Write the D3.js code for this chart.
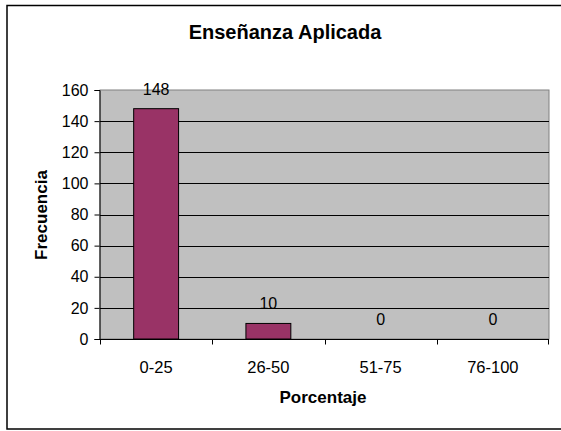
<!DOCTYPE html>
<html><head><meta charset="utf-8">
<script src="https://cdn.jsdelivr.net/npm/d3@7"></script>
<style>body{margin:0;background:#fff}svg{display:block;font-family:Arial,"Liberation Sans",sans-serif}</style>
</head><body>
<script>
const title = "Enseñanza Aplicada";
const categories = ["0-25", "26-50", "51-75", "76-100"];
const values = [148, 10, 0, 0];
const yTicks = [0, 20, 40, 60, 80, 100, 120, 140, 160];
const xTitle = "Porcentaje";
const yTitle = "Frecuencia";

const W = 561, H = 431;
const svg = d3.select("body").append("svg").attr("width", W).attr("height", H);

// outer chart border
svg.append("rect").attr("x", 7).attr("y", 5.5).attr("width", 620).attr("height", 423.5)
  .attr("fill", "#fff").attr("stroke", "#000").attr("stroke-width", 1.5);

const plot = {left: 100, right: 549, top: 90, bottom: 339};
const x = d3.scaleBand().domain(categories).range([plot.left, plot.right]).paddingInner(0.6).paddingOuter(0.3);
const xb = d3.scaleBand().domain(categories).range([plot.left, plot.right]);
const y = d3.scaleLinear().domain([0, 160]).range([plot.bottom, plot.top]);

svg.append("rect").attr("x", plot.left).attr("y", plot.top)
  .attr("width", plot.right - plot.left).attr("height", plot.bottom - plot.top)
  .attr("fill", "#c0c0c0").attr("stroke", "#808080").attr("stroke-width", 1);

// gridlines
svg.append("g").selectAll("line").data(yTicks.filter(d => d > 0 && d < 160)).join("line")
  .attr("x1", plot.left).attr("x2", plot.right)
  .attr("y1", d => Math.round(y(d)) + 0.5).attr("y2", d => Math.round(y(d)) + 0.5)
  .attr("stroke", "#000").attr("stroke-width", 1);

// bars
svg.append("g").selectAll("rect").data(values).join("rect")
  .attr("x", (d, i) => x(categories[i]))
  .attr("y", d => y(d))
  .attr("width", x.bandwidth())
  .attr("height", d => y(0) - y(d))
  .attr("fill", "#993366").attr("stroke", "#000").attr("stroke-width", 1);

// data labels
svg.append("g").selectAll("text").data(values).join("text")
  .attr("x", (d, i) => x(categories[i]) + x.bandwidth() / 2)
  .attr("y", d => y(d) - 14)
  .attr("text-anchor", "middle").attr("font-size", 16).attr("fill", "#000")
  .text(d => d);

// y axis
const yAxis = d3.axisLeft(y).tickValues(yTicks).tickSize(5).tickPadding(6);
const gy = svg.append("g").attr("transform", `translate(${plot.left - 0.5},0)`).call(yAxis);
gy.select(".domain").attr("stroke", "#000");
gy.selectAll(".tick line").attr("stroke", "#000");
gy.selectAll(".tick text").attr("font-size", 16).attr("font-family", "Arial, 'Liberation Sans', sans-serif").attr("fill", "#000");

// x axis
const gx = svg.append("g").attr("transform", `translate(0,${plot.bottom + 0.5})`);
gx.append("line").attr("x1", plot.left).attr("x2", plot.right).attr("stroke", "#000");
gx.selectAll(".tk").data(categories.concat(["__end"])).join("line").attr("class", "tk")
  .attr("x1", (d, i) => i < categories.length ? Math.round(xb(d)) + 0.5 : plot.right - 0.5)
  .attr("x2", (d, i) => i < categories.length ? Math.round(xb(d)) + 0.5 : plot.right - 0.5)
  .attr("y1", 0).attr("y2", 5).attr("stroke", "#000");
gx.selectAll("text").data(categories).join("text")
  .attr("x", d => xb(d) + xb.bandwidth() / 2).attr("y", 33)
  .attr("text-anchor", "middle").attr("font-size", 16.5).attr("fill", "#000").text(d => d);

// titles
svg.append("text").attr("x", 285).attr("y", 39).attr("text-anchor", "middle")
  .attr("font-size", 20).attr("font-weight", "bold")
  .text(title);
svg.append("text").attr("x", 323).attr("y", 403).attr("text-anchor", "middle")
  .attr("font-size", 17).attr("font-weight", "bold").text(xTitle);
svg.append("text").attr("transform", "translate(47,215) rotate(-90)").attr("text-anchor", "middle")
  .attr("font-size", 17).attr("font-weight", "bold").text(yTitle);
</script>
</body></html>
